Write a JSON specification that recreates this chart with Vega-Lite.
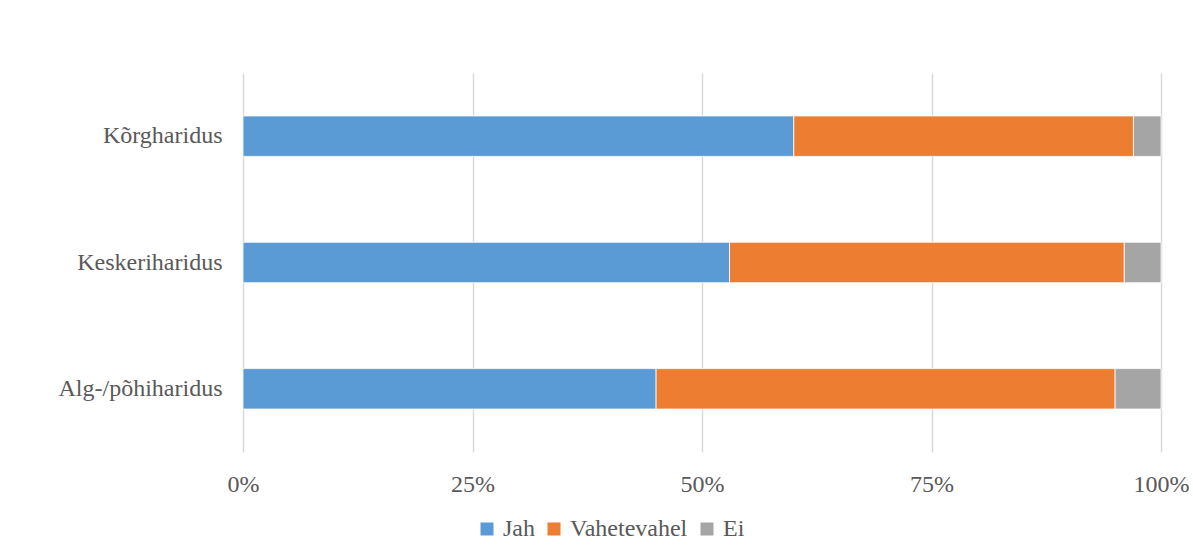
{
  "$schema": "https://vega.github.io/schema/vega-lite/v6.json",
  "autosize": "none",
  "width": 918,
  "height": 379,
  "padding": {"left": 243, "top": 73, "right": 32, "bottom": 101},
  "background": "white",
  "config": {
    "view": {"stroke": null},
    "font": "Liberation Serif",
    "axis": {"labelFont": "Liberation Serif", "labelFontSize": 24, "labelColor": "#595959"},
    "legend": {"labelFont": "Liberation Serif", "labelFontSize": 24, "labelColor": "#595959"}
  },
  "data": {
    "values": [
      {"haridus": "Kõrgharidus", "vastus": "Jah", "jrk": 1, "osa": 0.60},
      {"haridus": "Kõrgharidus", "vastus": "Vahetevahel", "jrk": 2, "osa": 0.37},
      {"haridus": "Kõrgharidus", "vastus": "Ei", "jrk": 3, "osa": 0.03},
      {"haridus": "Keskeriharidus", "vastus": "Jah", "jrk": 1, "osa": 0.53},
      {"haridus": "Keskeriharidus", "vastus": "Vahetevahel", "jrk": 2, "osa": 0.43},
      {"haridus": "Keskeriharidus", "vastus": "Ei", "jrk": 3, "osa": 0.04},
      {"haridus": "Alg-/põhiharidus", "vastus": "Jah", "jrk": 1, "osa": 0.45},
      {"haridus": "Alg-/põhiharidus", "vastus": "Vahetevahel", "jrk": 2, "osa": 0.50},
      {"haridus": "Alg-/põhiharidus", "vastus": "Ei", "jrk": 3, "osa": 0.05}
    ]
  },
  "mark": {"type": "bar", "stroke": "white", "strokeWidth": 0.8},
  "encoding": {
    "y": {
      "field": "haridus",
      "type": "nominal",
      "sort": ["Kõrgharidus", "Keskeriharidus", "Alg-/põhiharidus"],
      "scale": {"paddingInner": 0.68, "paddingOuter": 0.34},
      "axis": {"title": null, "ticks": false, "domain": false, "labelPadding": 21, "grid": false}
    },
    "x": {
      "field": "osa",
      "type": "quantitative",
      "stack": "zero",
      "scale": {"domain": [0, 1], "nice": false},
      "axis": {
        "title": null,
        "values": [0, 0.25, 0.5, 0.75, 1],
        "format": ".0%",
        "ticks": false,
        "domain": false,
        "grid": true,
        "gridColor": "#d9d9d9",
        "gridWidth": 1.5,
        "labelPadding": 20,
        "labelFlush": false
      }
    },
    "color": {
      "field": "vastus",
      "type": "nominal",
      "sort": ["Jah", "Vahetevahel", "Ei"],
      "scale": {"domain": ["Jah", "Vahetevahel", "Ei"], "range": ["#5B9BD5", "#ED7D31", "#A5A5A5"]},
      "legend": {
        "title": null,
        "orient": "none",
        "direction": "horizontal",
        "legendX": 232,
        "legendY": 444,
        "symbolType": "square",
        "symbolSize": 169,
        "symbolStrokeWidth": 0,
        "labelOffset": 4,
        "columnPadding": 7
      }
    },
    "order": {"field": "jrk", "type": "quantitative"}
  }
}
